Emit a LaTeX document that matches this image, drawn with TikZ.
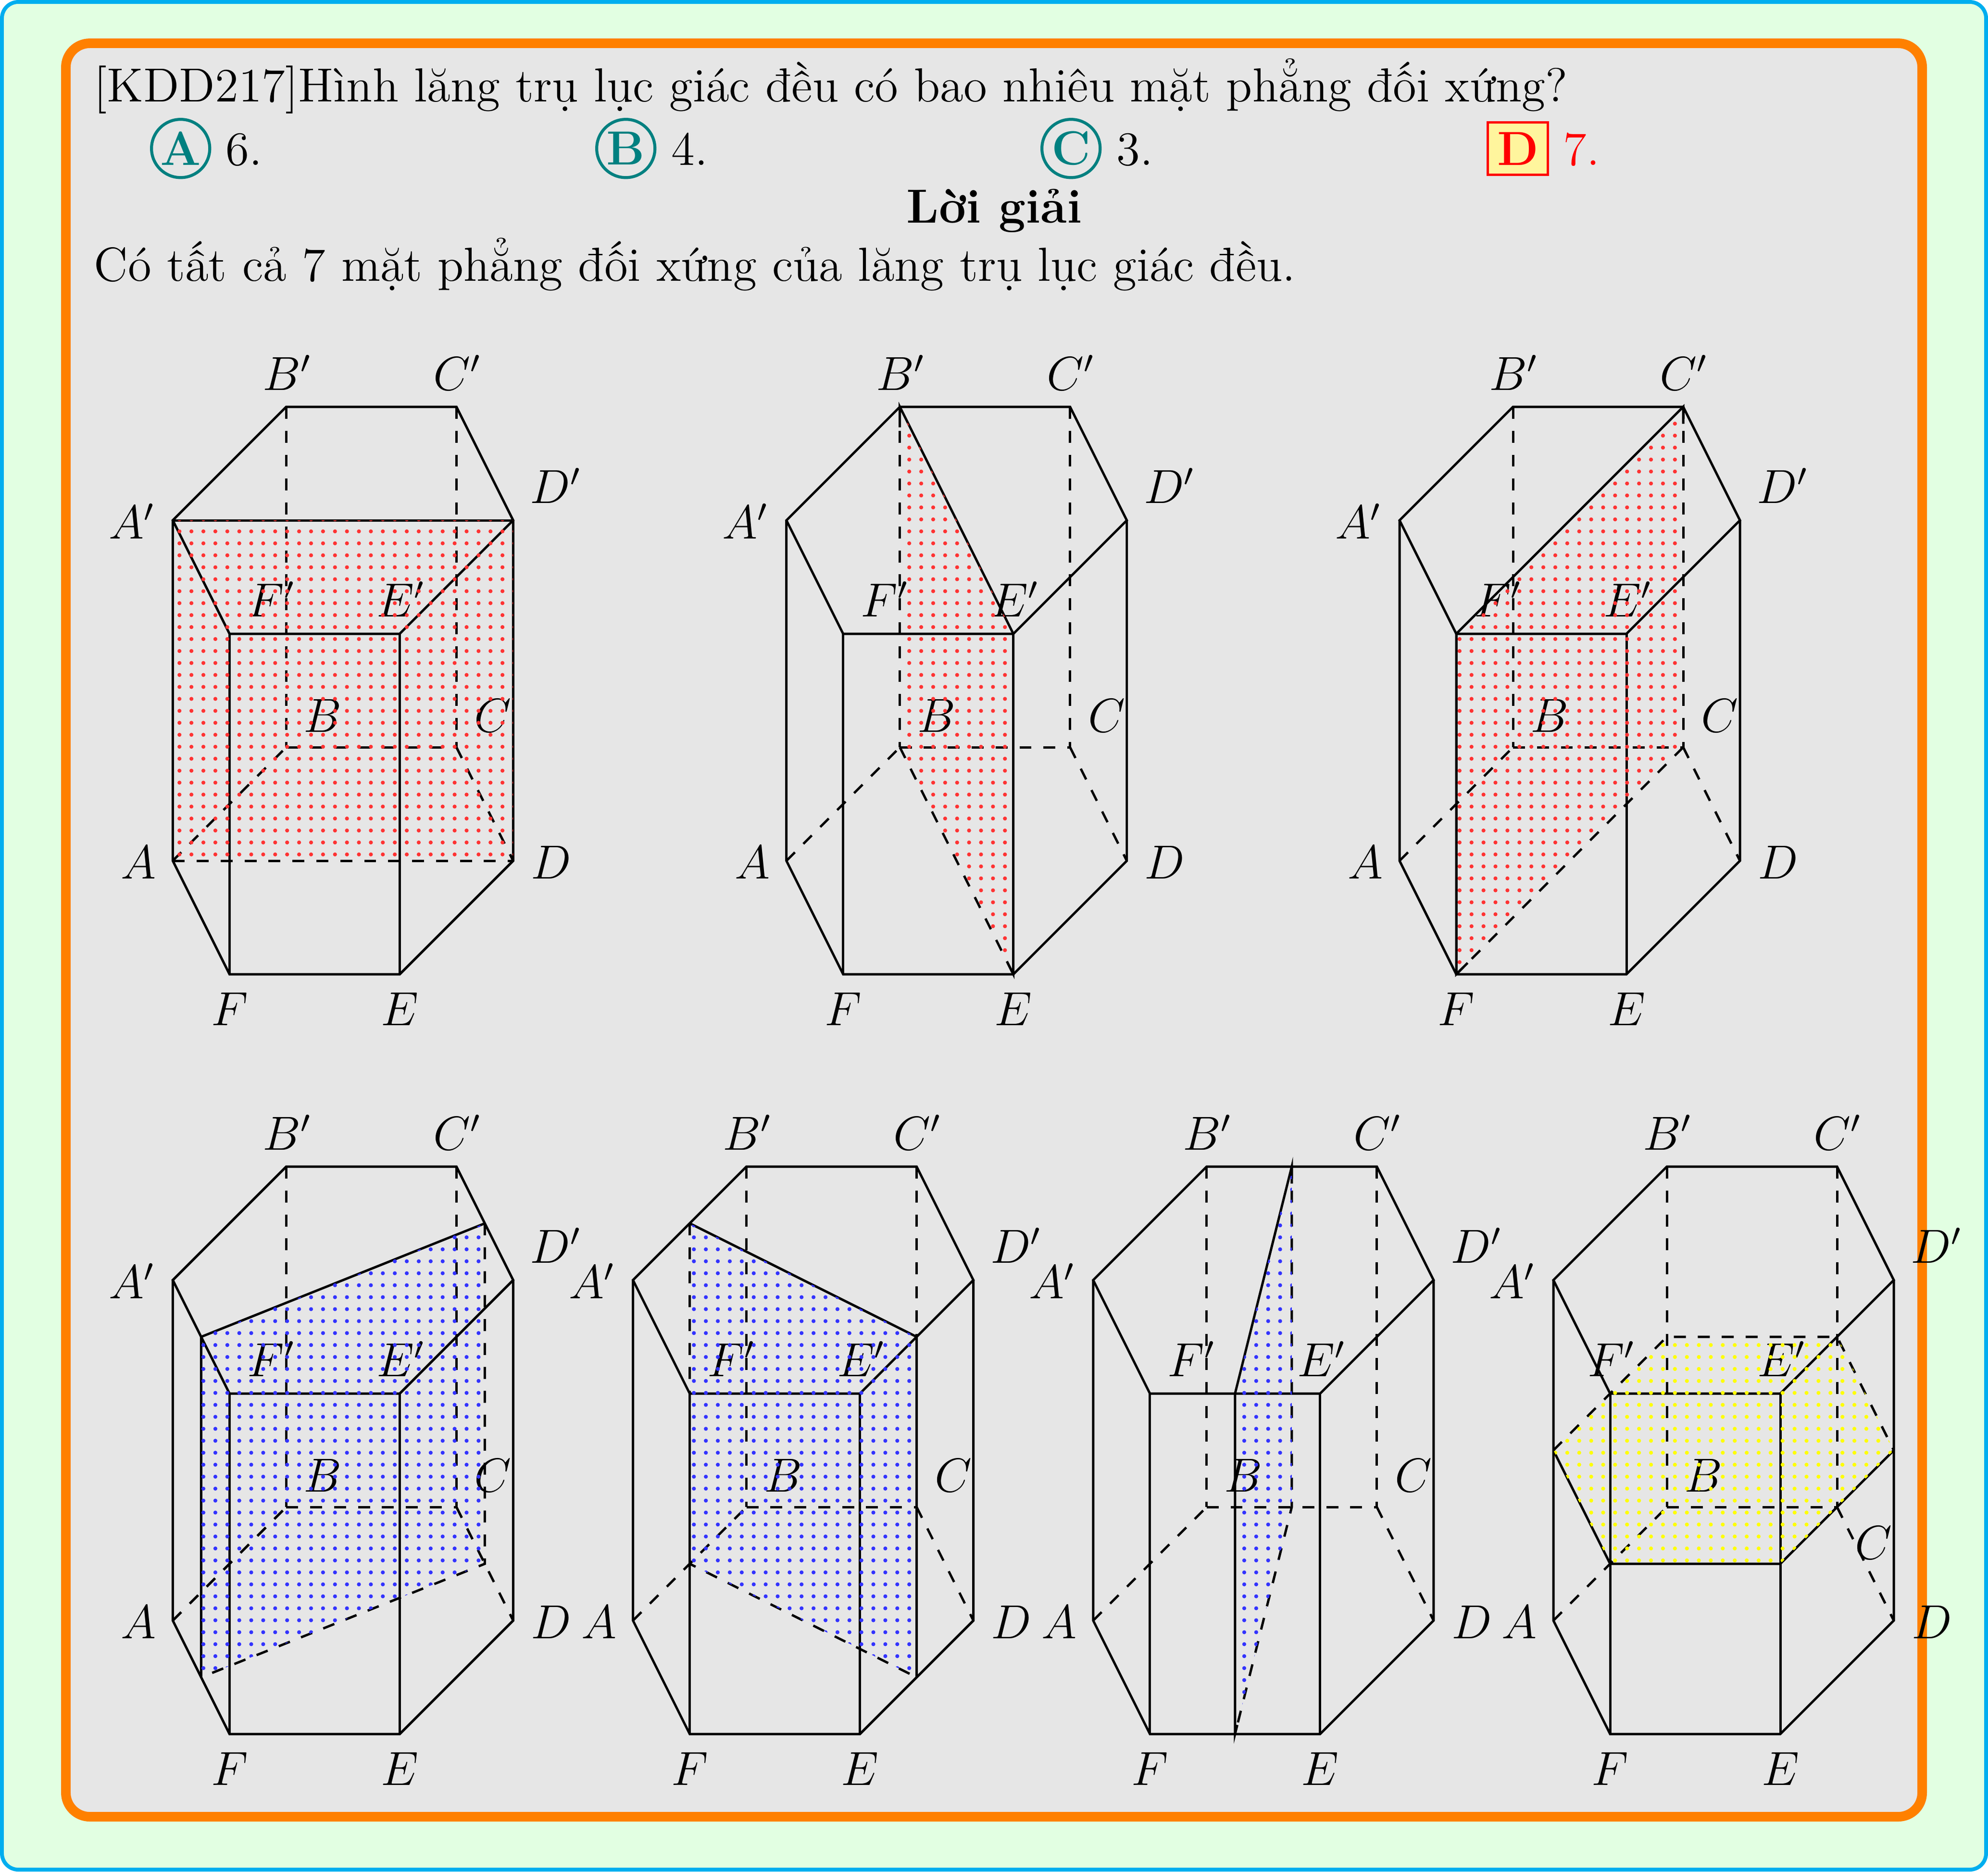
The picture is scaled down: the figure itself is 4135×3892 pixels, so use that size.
\documentclass[tikz,border=0pt]{standalone}
\usetikzlibrary{calc,patterns}
\definecolor{pagegreen}{HTML}{E2FFE2}
\definecolor{framecyan}{HTML}{00AEEF}
\definecolor{frameorange}{HTML}{FF8000}
\definecolor{panelgray}{HTML}{E6E6E6}
\definecolor{choiceteal}{HTML}{008080}
\definecolor{boxyellow}{HTML}{FFF59D}
\tikzset{
  edge/.style={line width=0.6pt,line join=miter},
  hidden/.style={line width=0.6pt,dashed},
  lbl/.style={inner sep=0pt,font=\fontsize{12}{14.5}\selectfont},
  txt/.style={anchor=base west,inner sep=0pt,font=\fontsize{12}{14.5}\selectfont},
  bold letter/.style={inner sep=0pt,font=\fontsize{12}{14.5}\selectfont\bfseries},
  choicecircle/.style={circle,draw=choiceteal,line width=0.75pt,minimum size=14.6pt,inner sep=0pt},
  answerbox/.style={rectangle,draw=red,fill=boxyellow,line width=0.6pt,minimum width=15.07pt,minimum height=13.14pt,inner sep=0pt},
  redplane/.style={pattern=dots,pattern color=red!80},
  blueplane/.style={pattern=dots,pattern color=blue!80},
  yellowplane/.style={pattern=dots,pattern color=yellow},
}
% #1 id, #2 x, #3 y of A, #4 F' label offset, #5 C label offset
\newcommand{\drawprism}[5]{%
  \coordinate (#1A) at (#2,#3);
  \coordinate (#1B) at ($(#1A)+(236,-236)$);
  \coordinate (#1C) at ($(#1A)+(590,-236)$);
  \coordinate (#1D) at ($(#1A)+(708,0)$);
  \coordinate (#1E) at ($(#1A)+(472,236)$);
  \coordinate (#1F) at ($(#1A)+(118,236)$);
  \coordinate (#1a) at ($(#1A)+(0,-708)$);
  \coordinate (#1b) at ($(#1B)+(0,-708)$);
  \coordinate (#1c) at ($(#1C)+(0,-708)$);
  \coordinate (#1d) at ($(#1D)+(0,-708)$);
  \coordinate (#1e) at ($(#1E)+(0,-708)$);
  \coordinate (#1f) at ($(#1F)+(0,-708)$);
  \draw[edge] (#1a) -- (#1b) -- (#1c) -- (#1d) -- (#1e) -- (#1f) -- cycle;
  \draw[edge] (#1a) -- (#1A) -- (#1F) -- (#1E) -- (#1D) -- (#1d);
  \draw[edge] (#1f) -- (#1F) (#1e) -- (#1E);
  \draw[hidden] (#1A) -- (#1B);
  \draw[hidden] (#1B) -- (#1C);
  \draw[hidden] (#1C) -- (#1D);
  \draw[hidden] (#1b) -- (#1B);
  \draw[hidden] (#1c) -- (#1C);
  \node[lbl] (#1la) at ($(#1a)+(-85,2)$) {$A'$};
  \node[lbl] (#1lb) at ($(#1b)+(2,-71)$) {$B'$};
  \node[lbl] (#1lc) at ($(#1c)+(2,-71)$) {$C'$};
  \node[lbl] (#1ld) at ($(#1d)+(89,-72)$) {$D'$};
  \node[lbl] (#1le) at ($(#1e)+(3,-72)$) {$E'$};
  \node[lbl] (#1lf) at ($(#1f)+#4$) {$F'$};
  \node[lbl] (#1lA) at ($(#1A)+(-71,3)$) {$A$};
  \node[lbl] (#1lB) at ($(#1B)+(76,-66)$) {$B$};
  \node[lbl] (#1lC) at ($(#1C)+#5$) {$C$};
  \node[lbl] (#1lD) at ($(#1D)+(79,3)$) {$D$};
  \node[lbl] (#1lE) at ($(#1E)+(0,72)$) {$E$};
  \node[lbl] (#1lF) at ($(#1F)+(0,72)$) {$F$};
}
\begin{document}
\begin{tikzpicture}[x=0.12056pt,y=-0.12056pt]
\useasboundingbox (0,0) rectangle (4135,3892);
\draw[draw=framecyan,fill=pagegreen,line width=0.96pt,rounded corners=4.1pt] (4,4) rectangle (4131,3888);
\draw[draw=frameorange,fill=panelgray,line width=2.4pt,rounded corners=6pt] (137,90) rectangle (3998,3778);

\node[txt] (qline) at (194,211) {[KDD217]Hình lăng trụ lục giác đều có bao nhiêu mặt phẳng đối xứng?};
\node[choicecircle] (ca) at (375.7,308.7) {};
\node[bold letter,text=choiceteal] (la) at (375.7,308.7) {A};
\node[txt] (ta) at (468,343) {6.};
\node[choicecircle] (cb) at (1301.7,308.7) {};
\node[bold letter,text=choiceteal] (lb) at (1301.7,308.7) {B};
\node[txt] (tb) at (1395,343) {4.};
\node[choicecircle] (cc) at (2227.7,308.7) {};
\node[bold letter,text=choiceteal] (lc) at (2227.7,308.7) {C};
\node[txt] (tc) at (2321,343) {3.};
\node[answerbox] (cd) at (3157,309) {};
\node[bold letter,text=red] (ld) at (3157,309) {D};
\node[txt,text=red] (td) at (3250,343) {7.};
\node[txt,anchor=base,font=\fontsize{12}{14.5}\selectfont\bfseries] (sol) at (2068,463) {Lời giải};
\node[txt] (ans) at (194,584) {Có tất cả 7 mặt phẳng đối xứng của lăng trụ lục giác đều.};

\drawprism{p}{359.4}{1790}{(87,-72)}{(76,-66)}
\drawprism{q}{1635.7}{1790}{(87,-72)}{(76,-66)}
\drawprism{r}{2911}{1790}{(87,-72)}{(76,-66)}
\drawprism{s}{359.4}{3370}{(87,-72)}{(76,-66)}
\drawprism{t}{1316.6}{3370}{(87,-72)}{(76,-66)}
\drawprism{u}{2273.8}{3370}{(87,-72)}{(76,-66)}
\drawprism{v}{3231}{3370}{(3,-72)}{(76,74)}

% plane A'D'DA
\draw[edge] (pa) -- (pd);
\draw[hidden] (pA) -- (pD);
\path[redplane] (pa) -- (pd) -- (pD) -- (pA) -- cycle;
% plane B'E'EB
\draw[edge] ($(qb)!.06!(qB)$) -- (qb) -- (qe) -- (qE) -- ($(qE)!.05!(qB)$);
\draw[hidden] (qB) -- (qE);
\path[redplane] (qb) -- (qe) -- (qE) -- (qB) -- cycle;
% plane C'F'FC
\draw[edge] ($(rc)!.05!(rC)$) -- (rc) -- (rf) -- (rF) -- ($(rF)!.05!(rC)$);
\draw[hidden] (rC) -- (rF);
\path[redplane] (rc) -- (rf) -- (rF) -- (rC) -- cycle;
% plane through midpoints of A'F', C'D'
\coordinate (sP) at ($(sa)!.5!(sf)$);
\coordinate (sQ) at ($(sc)!.5!(sd)$);
\coordinate (sPb) at ($(sA)!.5!(sF)$);
\coordinate (sQb) at ($(sC)!.5!(sD)$);
\draw[edge] (sQ) -- (sP) -- (sPb);
\draw[hidden] (sQ) -- (sQb) -- (sPb);
\path[blueplane] (sP) -- (sQ) -- (sQb) -- (sPb) -- cycle;
% plane through midpoints of A'B', D'E'
\coordinate (tP) at ($(ta)!.5!(tb)$);
\coordinate (tQ) at ($(td)!.5!(te)$);
\coordinate (tPb) at ($(tA)!.5!(tB)$);
\coordinate (tQb) at ($(tD)!.5!(tE)$);
\draw[edge] (tP) -- (tQ) -- (tQb);
\draw[hidden] (tP) -- (tPb) -- (tQb);
\path[blueplane] (tP) -- (tQ) -- (tQb) -- (tPb) -- cycle;
% plane through midpoints of B'C', E'F'
\coordinate (uP) at ($(ub)!.5!(uc)$);
\coordinate (uQ) at ($(ue)!.5!(uf)$);
\coordinate (uPb) at ($(uB)!.5!(uC)$);
\coordinate (uQb) at ($(uE)!.5!(uF)$);
\draw[edge] ($(uP)!.05!(uPb)$) -- (uP) -- (uQ) -- (uQb) -- ($(uQb)!.04!(uPb)$);
\draw[hidden] (uP) -- (uPb) -- (uQb);
\path[blueplane] (uP) -- (uQ) -- (uQb) -- (uPb) -- cycle;
% mid-section hexagon
\coordinate (vMa) at ($(va)!.5!(vA)$);
\coordinate (vMb) at ($(vb)!.5!(vB)$);
\coordinate (vMc) at ($(vc)!.5!(vC)$);
\coordinate (vMd) at ($(vd)!.5!(vD)$);
\coordinate (vMe) at ($(ve)!.5!(vE)$);
\coordinate (vMf) at ($(vf)!.5!(vF)$);
\draw[hidden] (vMa) -- (vMb) -- (vMc) -- (vMd);
\draw[edge] (vMd) -- (vMe) -- (vMf) -- (vMa);
\path[yellowplane] (vMa) -- (vMb) -- (vMc) -- (vMd) -- (vMe) -- (vMf) -- cycle;
\end{tikzpicture}
\end{document}
